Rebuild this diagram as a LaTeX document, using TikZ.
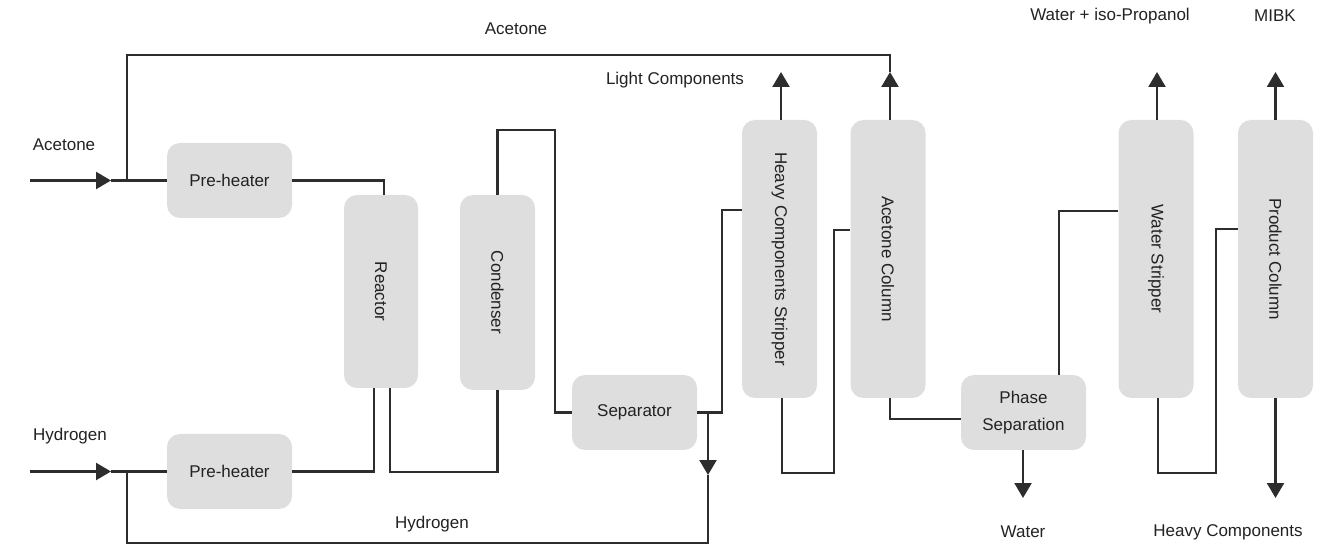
\documentclass[tikz,border=0pt]{standalone}
\usepackage{fontspec}
\setmainfont{Liberation Sans}
\usetikzlibrary{arrows.meta}
\definecolor{boxgray}{HTML}{DEDEDE}
\definecolor{linegray}{HTML}{2D2D2D}
\definecolor{txtgray}{HTML}{222222}
\begin{document}
\begin{tikzpicture}[x=0.5pt,y=-0.5pt,
  box/.style={fill=boxgray, draw=none, rounded corners=6.5pt, text=txtgray,
    font=\fontsize{8.5}{10.5}\selectfont, inner sep=0pt, align=center},
  hbox/.style={box, minimum width=62.5pt, minimum height=37.5pt},
  colbox/.style={box, minimum width=37.5pt, minimum height=139pt},
  flow/.style={draw=linegray, line width=1.15pt},
  tri/.style={flow, -{Triangle[length=7.5pt,width=8.5pt]}},
  lbl/.style={text=txtgray, font=\fontsize{8.5}{10.5}\selectfont, inner sep=0pt}]
\useasboundingbox (0,0) rectangle (1326,544);

% units / boxes
\node[hbox] (pre1) at (229.5,180.5) {Pre-heater};
\node[hbox] (pre2) at (229.5,471.5) {Pre-heater};
\node[box, minimum width=37pt, minimum height=96.5pt] (reactor) at (381,291.5) {\rotatebox{-90}{Reactor}};
\node[box, minimum width=37.5pt, minimum height=97.5pt] (condenser) at (497.5,292.5) {\rotatebox{-90}{Condenser}};
\node[hbox] (sep) at (634.5,412.5) {Separator};
\node[colbox] (hcs) at (779.5,259) {\rotatebox{-90}{Heavy Components Stripper}};
\node[colbox] (acol) at (888,259) {\rotatebox{-90}{Acetone Column}};
\node[hbox] (phase) at (1023.5,412.5) {Phase\\[3pt]Separation};
\node[colbox] (ws) at (1156,259) {\rotatebox{-90}{Water Stripper}};
\node[colbox] (pc) at (1275.5,259) {\rotatebox{-90}{Product Column}};

% labels
\node[lbl] (lAcTop) at (516,29) {Acetone};
\node[lbl] (lAcIn) at (64,145) {Acetone};
\node[lbl] (lHyIn) at (70,436) {Hydrogen};
\node[lbl] (lHyBot) at (432,524) {Hydrogen};
\node[lbl] (lLight) at (675,80) {Light Components};
\node[lbl] (lWIso) at (1110,16) {Water + iso-Propanol};
\node[lbl] (lMIBK) at (1275,16) {MIBK};
\node[lbl] (lWater) at (1023,532) {Water};
\node[lbl] (lHeavy) at (1228,532) {Heavy Components};

% free ends and junctions
\coordinate (acIn) at (30,180.5);
\coordinate (acTip) at (111,180.5);
\coordinate (acJoin) at (127,180.5);
\coordinate (hyIn) at (30,471.5);
\coordinate (hyTip) at (111,471.5);
\coordinate (hyJoin) at (127,471.5);
\coordinate (recTip) at (890,72);
\coordinate (lightTip) at (781,72);
\coordinate (sepJoin) at (708,412.5);
\coordinate (sepTip) at (708,475);
\coordinate (waterTip) at (1023,498);
\coordinate (wsTip) at (1157,72);
\coordinate (pcTip) at (1275.5,72);
\coordinate (pcBotTip) at (1275.5,498);

% feeds
\draw[tri] (acIn) -- (acTip);
\draw[flow] (acTip) -- (pre1.west);
\draw[tri] (hyIn) -- (hyTip);
\draw[flow] (hyTip) -- (pre2.west);

% acetone recycle
\draw[tri] (acol.north -| recTip) -- (recTip);
\draw[flow] (recTip) -- (890,55) -- (127,55) -- (acJoin);

% pre-heaters to reactor
\draw[flow] (pre1.east) -| ([xshift=1.5pt]reactor.north);
\draw[flow] (pre2.east) -| ([xshift=-3.5pt]reactor.south);

% reactor to condenser
\draw[flow] ([xshift=4.5pt]reactor.south) |- (497.5,472) -- (condenser.south);

% condenser to separator
\draw[flow] (condenser.north) |- (555,130) |- (sep.west);

% separator to heavy components stripper
\draw[flow] (sep.east) -| (722,210) -- (hcs.west |- 722,210);

% hydrogen recycle
\draw[tri] (sepJoin) -- (sepTip);
\draw[flow] (sepTip) -- (708,543) -- (127,543) -- (hyJoin);

% light components
\draw[tri] (hcs.north -| lightTip) -- (lightTip);

% HCS bottoms to acetone column
\draw[flow] (hcs.south -| 782,0) |- (834,473) |- (acol.west |- 0,230);

% acetone column bottoms to phase separation
\draw[flow] (acol.south -| 890,0) |- (phase.west |- 0,419);

% water out
\draw[tri] (phase.south -| waterTip) -- (waterTip);

% phase separation to water stripper
\draw[flow] (phase.north -| 1059,0) |- (ws.west |- 0,211);

% water + iso-propanol
\draw[tri] (ws.north -| wsTip) -- (wsTip);

% water stripper bottoms to product column
\draw[flow] (ws.south -| 1158,0) |- (1216,473) |- (pc.west |- 0,229);

% MIBK and heavy components
\draw[tri] (pc.north) -- (pcTip);
\draw[tri] (pc.south) -- (pcBotTip);
\end{tikzpicture}
\end{document}
